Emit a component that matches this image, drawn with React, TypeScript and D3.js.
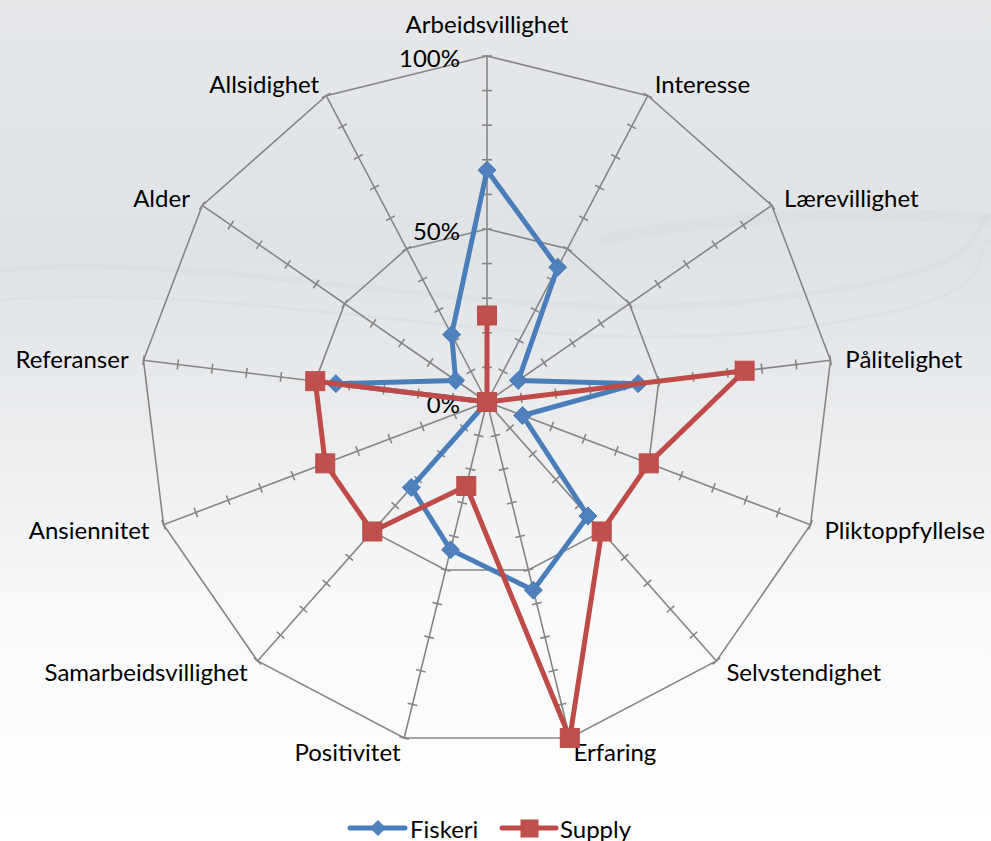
import React from 'react';
import * as d3 from 'd3';

// categories around the radar, clockwise from the top
const categories = [
  'Arbeidsvillighet', 'Interesse', 'Lærevillighet', 'Pålitelighet',
  'Pliktoppfyllelse', 'Selvstendighet', 'Erfaring', 'Positivitet',
  'Samarbeidsvillighet', 'Ansiennitet', 'Referanser', 'Alder', 'Allsidighet',
];

const fiskeri = [0.67, 0.44, 0.11, 0.44, 0.11, 0.44, 0.56, 0.44, 0.33, 0, 0.44, 0.11, 0.22];
const supply = [0.25, 0, 0, 0.75, 0.5, 0.5, 1.0, 0.25, 0.5, 0.5, 0.5, 0, 0];

const gridLevels = [0.5, 1];
const tickValues = [0.1, 0.2, 0.3, 0.4, 0.5, 0.6, 0.7, 0.8, 0.9, 1];
const axisLabels = [0, 0.5, 1];

const width = 991;
const height = 841;
const cx = 487;
const cy = 402;
const radius = 346;
const font = 'Lato, "Open Sans", sans-serif';
const fontSize = 24;

const BLUE = '#4a7ebb';
const BLUE_FILL = '#4f81bd';
const RED = '#be4b48';
const RED_FILL = '#c0504d';

export default function App() {
  const r = d3.scaleLinear().domain([0, 1]).range([0, radius]);
  const angle = d3.scaleLinear().domain([0, categories.length]).range([0, 2 * Math.PI]);

  const pos = (i: number, v: number): [number, number] => [
    cx + r(v) * Math.sin(angle(i)),
    cy - r(v) * Math.cos(angle(i)),
  ];

  const radial = d3.lineRadial<number>()
    .angle((_, i) => angle(i))
    .radius(d => r(d))
    .curve(d3.curveLinearClosed);

  const diamond = (s: number) => `M0,${-s}L${s},0L0,${s}L${-s},0Z`;

  return (
    <svg width={width} height={height} style={{ position: 'fixed', left: 0, top: 0 }}
      fontFamily={font}>
      <defs>
        <linearGradient id="bg" x1="0" y1="0" x2="0" y2="1">
          <stop offset="0" stopColor="#e6e8ea" />
          <stop offset="0.3" stopColor="#e0e3e6" />
          <stop offset="0.5" stopColor="#eaecee" />
          <stop offset="0.72" stopColor="#f8f9f9" />
          <stop offset="1" stopColor="#ffffff" />
        </linearGradient>
      </defs>
      <rect width={width} height={height} fill="url(#bg)" />
      {/* faint swooshes of the backdrop */}
      <g fill="none" stroke="#cfd3d7" strokeOpacity={0.22}>
        <path d="M0,270 C250,250 500,330 760,300 S960,230 991,215" strokeWidth={6} />
        <path d="M0,300 C260,280 520,360 780,330 S960,250 991,240" strokeWidth={3} />
        <path d="M600,240 C720,215 880,210 991,220" strokeWidth={12} />
      </g>

      <g transform={`translate(${cx},${cy})`} fill="none" stroke="#868686" strokeWidth={1.6}>
        {gridLevels.map(lv => (
          <path key={lv} d={radial(categories.map(() => lv)) ?? ''} />
        ))}
      </g>

      {categories.map((c, i) => {
        const [x2, y2] = pos(i, 1);
        const a = angle(i);
        const px = Math.cos(a);
        const py = Math.sin(a);
        return (
          <g key={c} stroke="#868686" strokeWidth={1.6}>
            <line x1={cx} y1={cy} x2={x2} y2={y2} />
            {tickValues.map(t => {
              const [tx, ty] = pos(i, t);
              return <line key={t} x1={tx - px * 5} y1={ty - py * 5} x2={tx + px * 5} y2={ty + py * 5} />;
            })}
          </g>
        );
      })}

      {axisLabels.map(v => (
        <text key={v} x={cx - 27} y={pos(0, v)[1] + 1} textAnchor="end" dominantBaseline="central"
          fontSize={fontSize} fill="#000">
          {d3.format('.0%')(v)}
        </text>
      ))}

      {categories.map((c, i) => {
        const [vx, vy] = pos(i, 1);
        const s = Math.sin(angle(i));
        const co = Math.cos(angle(i));
        const anchor = Math.abs(s) < 0.05 ? 'middle' : s > 0 ? 'start' : 'end';
        const x = vx + s * 15;
        const y = vy - co * 14 - (Math.abs(s) < 0.05 ? 19 : 0);
        return (
          <text key={c} x={x} y={y} textAnchor={anchor} dominantBaseline="central"
            fontSize={fontSize} fill="#000">
            {c}
          </text>
        );
      })}

      {/* Fiskeri */}
      <g transform={`translate(${cx},${cy})`}>
        <path d={radial(fiskeri) ?? ''} fill="none" stroke={BLUE} strokeWidth={5}
          strokeLinejoin="round" />
      </g>
      {fiskeri.map((v, i) => {
        const [x, y] = pos(i, v);
        return <path key={i} d={diamond(9)} transform={`translate(${x},${y})`} fill={BLUE_FILL} stroke={BLUE} />;
      })}

      {/* Supply */}
      <g transform={`translate(${cx},${cy})`}>
        <path d={radial(supply) ?? ''} fill="none" stroke={RED} strokeWidth={5}
          strokeLinejoin="round" />
      </g>
      {supply.map((v, i) => {
        const [x, y] = pos(i, v);
        return <rect key={i} x={x - 9.5} y={y - 9.5} width={19} height={19} fill={RED_FILL} stroke={RED} />;
      })}

      {/* legend */}
      <g fontSize={fontSize}>
        <line x1={350} x2={405} y1={828} y2={828} stroke={BLUE} strokeWidth={5} strokeLinecap="round" />
        <path d={diamond(7.5)} transform="translate(378,828)" fill={BLUE_FILL} stroke={BLUE} />
        <text x={410} y={828} dominantBaseline="central" fill="#000">Fiskeri</text>
        <line x1={502} x2={556} y1={828} y2={828} stroke={RED} strokeWidth={5} strokeLinecap="round" />
        <rect x={521} y={820} width={17} height={17} fill={RED_FILL} stroke={RED} />
        <text x={560} y={828} dominantBaseline="central" fill="#000">Supply</text>
      </g>
    </svg>
  );
}
